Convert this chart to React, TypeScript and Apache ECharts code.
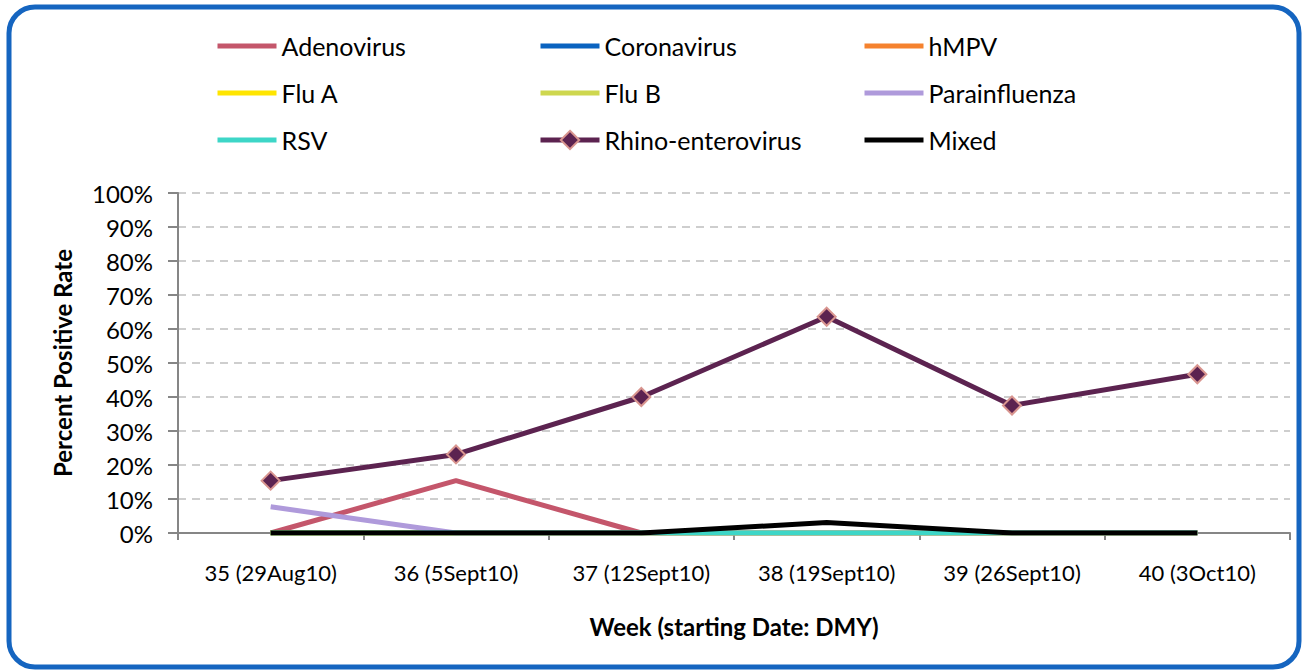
import React, { useEffect, useRef } from "react";
import * as echarts from "echarts";

const categories = [
  "35 (29Aug10)",
  "36 (5Sept10)",
  "37 (12Sept10)",
  "38 (19Sept10)",
  "39 (26Sept10)",
  "40 (3Oct10)",
];

const adenovirus = [0, 15.4, 0, 0, 0, 0];
const coronavirus = [0, 0, 0, 0, 0, 0];
const hmpv = [0, 0, 0, 0, 0, 0];
const fluA = [0, 0, 0, 0, 0, 0];
const fluB = [0, 0, 0, 0, 0, 0];
const parainfluenza = [7.7, 0, 0, 0, 0, 0];
const rsv = [0, 0, 0, 0, 0, 0];
const rhino = [15.4, 23.1, 40.0, 63.6, 37.5, 46.7];
const mixed = [0, 0, 0, 3.1, 0, 0];

const seriesNames = [
  "Adenovirus",
  "Coronavirus",
  "hMPV",
  "Flu A",
  "Flu B",
  "Parainfluenza",
  "RSV",
  "Rhino-enterovirus",
  "Mixed",
];
const seriesData = [adenovirus, coronavirus, hmpv, fluA, fluB, parainfluenza, rsv, rhino, mixed];
const seriesColors = [
  "#C4566B",
  "#0A63C0",
  "#F5822E",
  "#FFE500",
  "#CED74F",
  "#AF9ADB",
  "#3DD6C7",
  "#5C2350",
  "#000000",
];

const yTicks = [0, 10, 20, 30, 40, 50, 60, 70, 80, 90, 100];

export default function App() {
  const ref = useRef<HTMLDivElement>(null);
  useEffect(() => {
    document.body.style.margin = "0";
    const chart = echarts.init(ref.current!, null, { renderer: "svg" });
    const font = "Lato, 'Open Sans', sans-serif";
    const legendCol = (names: string[], left: number) => ({
      orient: "vertical" as const,
      left,
      top: 27,
      itemWidth: 59,
      itemHeight: 23,
      itemGap: 19,
      data: names.map((n) =>
        n === "Rhino-enterovirus"
          ? { name: n }
          : { name: n, itemStyle: { opacity: 0, borderWidth: 0 } }
      ),
      textStyle: { fontSize: 25, color: "#000", fontFamily: font, lineHeight: 28 },
      lineStyle: { width: "inherit" },
    });
    chart.setOption({
      animation: false,
      textStyle: { fontFamily: font },
      graphic: [
        {
          type: "rect",
          shape: { x: 9, y: 7, width: 1290, height: 660, r: 26 },
          style: { fill: "none", stroke: "#1565C0", lineWidth: 5 },
          z: 100,
        },
      ],
      legend: [
        legendCol([seriesNames[0], seriesNames[3], seriesNames[6]], 210),
        legendCol([seriesNames[1], seriesNames[4], seriesNames[7]], 533),
        legendCol([seriesNames[2], seriesNames[5], seriesNames[8]], 857),
      ],
      grid: { left: 178, right: 14, top: 193, bottom: 137 },
      xAxis: {
        type: "category",
        data: categories,
        boundaryGap: true,
        axisLine: { lineStyle: { color: "#868686", width: 2 } },
        axisTick: { show: true, length: 7, lineStyle: { color: "#868686", width: 2 } },
        axisLabel: { fontSize: 22, color: "#000", margin: 28, fontFamily: font },
        name: "Week (starting Date: DMY)",
        nameLocation: "middle",
        nameGap: 81,
        nameTextStyle: { fontSize: 24, fontWeight: "bold", color: "#000", fontFamily: font },
      },
      yAxis: {
        type: "value",
        min: 0,
        max: 100,
        interval: 10,
        axisLine: { show: true, lineStyle: { color: "#868686", width: 2 } },
        axisTick: { show: true, length: 10, lineStyle: { color: "#868686", width: 2 } },
        axisLabel: {
          fontSize: 24,
          color: "#000",
          margin: 25,
          fontFamily: font,
          formatter: (v: number) => (yTicks.includes(v) ? v + "%" : ""),
        },
        splitLine: { show: true, lineStyle: { color: "#BFBFBF", width: 1.5, type: [8, 6] } },
        name: "Percent Positive Rate",
        nameLocation: "middle",
        nameGap: 104,
        nameTextStyle: { fontSize: 24, fontWeight: "bold", color: "#000", fontFamily: font },
      },
      series: seriesNames.map((name, i) => {
        const isRhino = name === "Rhino-enterovirus";
        return {
          name,
          type: "line",
          data: seriesData[i],
          color: seriesColors[i],
          lineStyle: { width: 5, color: seriesColors[i] },
          symbol: isRhino ? "diamond" : "none",
          symbolSize: isRhino ? 18 : 0,
          showSymbol: isRhino,
          itemStyle: isRhino
            ? { color: seriesColors[i], borderColor: "#D9958F", borderWidth: 2 }
            : { color: seriesColors[i] },
          z: 2 + i,
        };
      }),
    });
    return () => chart.dispose();
  }, []);
  return <div ref={ref} style={{ width: 1304, height: 670 }} />;
}
